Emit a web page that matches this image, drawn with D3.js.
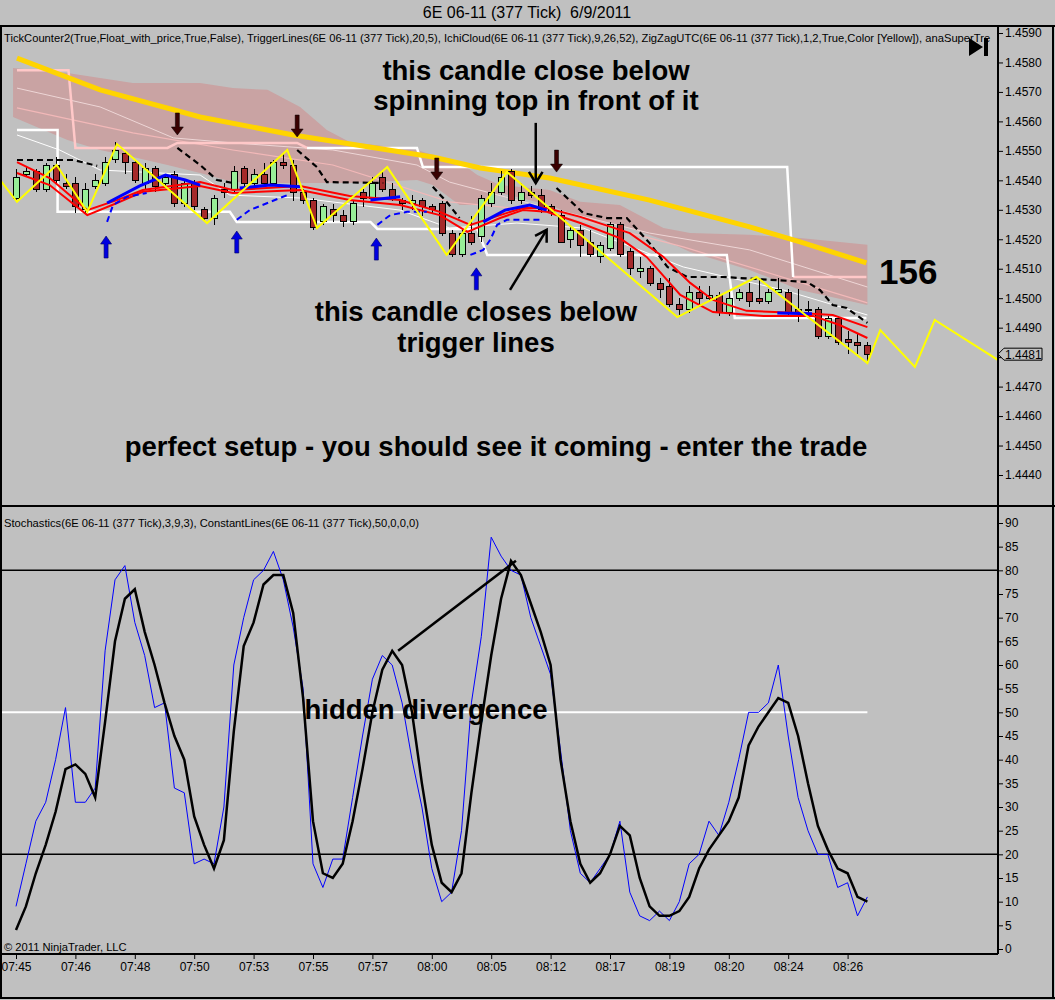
<!DOCTYPE html>
<html lang="en">
<head>
<meta charset="UTF-8" />
<title>6E 06-11 (377 Tick) 6/9/2011</title>
<script src="https://d3js.org/d3.v7.min.js"></script>
<style>
  body { margin: 0; background: #c0c0c0; }
  svg { display: block; font-family: Arial, "Liberation Sans", sans-serif; }
  .axis text { font-size: 12px; fill: #000; }
  .axis line { stroke: #000; }
  .note { font-weight: bold; font-size: 27.5px; fill: #000; }
</style>
</head>
<body>
<svg id="chart" width="1055" height="1000"></svg>
<script>
// ---- data ----
const timeLabels = ["07:45","07:46","07:48","07:50","07:53","07:55","07:57","08:00","08:05","08:12","08:17","08:19","08:20","08:24","08:26"];
const timeTickBars = [0,6,12,18,24,30,36,42,48,54,60,66,72,78,84];
const priceTicks = [1.4440,1.4450,1.4460,1.4470,1.4480,1.4490,1.4500,1.4510,1.4520,1.4530,1.4540,1.4550,1.4560,1.4570,1.4580,1.4590];
const stochTicks = [0,5,10,15,20,25,30,35,40,45,50,55,60,65,70,75,80,85,90];

// open, high, low, close per 377-tick bar
const candles = [
  [1.4534,1.4544,1.4533,1.4541],[1.4542,1.4545,1.4541,1.4543],[1.4543,1.4544,1.4536,1.4537],[1.4537,1.4546,1.4536,1.4545],
  [1.4545,1.4548,1.4539,1.4540],[1.4539,1.4542,1.4537,1.4538],[1.4539,1.4541,1.4529,1.4531],[1.4530,1.4539,1.4529,1.4537],
  [1.4538,1.4542,1.4537,1.4540],[1.4539,1.4548,1.4538,1.4546],[1.4547,1.4553,1.4546,1.4550],[1.4549,1.4550,1.4542,1.4546],
  [1.4546,1.4547,1.4539,1.4540],[1.4539,1.4546,1.4537,1.4544],[1.4544,1.4545,1.4536,1.4538],[1.4539,1.4542,1.4538,1.4541],
  [1.4542,1.4543,1.4531,1.4532],[1.4532,1.4540,1.4531,1.4539],[1.4539,1.4540,1.4530,1.4531],[1.4530,1.4531,1.4526,1.4527],
  [1.4527,1.4535,1.4525,1.4534],[1.4537,1.4539,1.4534,1.4536],[1.4537,1.4545,1.4536,1.4543],[1.4544,1.4545,1.4538,1.4539],
  [1.4539,1.4544,1.4538,1.4542],[1.4542,1.4546,1.4538,1.4539],[1.4539,1.4547,1.4538,1.4546],[1.4546,1.4549,1.4544,1.4545],
  [1.4545,1.4547,1.4533,1.4536],[1.4536,1.4537,1.4532,1.4533],[1.4533,1.4534,1.4523,1.4524],[1.4526,1.4532,1.4525,1.4531],
  [1.4530,1.4532,1.4526,1.4528],[1.4528,1.4530,1.4524,1.4526],[1.4526,1.4533,1.4525,1.4532],[1.4536,1.4537,1.4531,1.4534],
  [1.4534,1.4541,1.4533,1.4539],[1.4541,1.4543,1.4536,1.4537],[1.4537,1.4539,1.4533,1.4534],[1.4533,1.4534,1.4530,1.4532],
  [1.4532,1.4535,1.4530,1.4533],[1.4533,1.4534,1.4528,1.4531],[1.4531,1.4532,1.4529,1.4530],[1.4532,1.4533,1.4521,1.4522],
  [1.4522,1.4523,1.4514,1.4515],[1.4515,1.4523,1.4514,1.4522],[1.4522,1.4528,1.4518,1.4519],[1.4521,1.4535,1.4519,1.4534],
  [1.4532,1.4539,1.4531,1.4536],[1.4536,1.4543,1.4535,1.4541],[1.4543,1.4544,1.4532,1.4533],[1.4533,1.4539,1.4532,1.4536],
  [1.4536,1.4538,1.4534,1.4535],[1.4535,1.4537,1.4529,1.4530],[1.4531,1.4532,1.4528,1.4529],[1.4528,1.4530,1.4519,1.4519],
  [1.4520,1.4525,1.4517,1.4523],[1.4523,1.4525,1.4514,1.4518],[1.4519,1.4523,1.4514,1.4515],[1.4514,1.4519,1.4512,1.4518],
  [1.4517,1.4526,1.4516,1.4525],[1.4525,1.4526,1.4514,1.4515],[1.4516,1.4517,1.4508,1.4510],[1.4509,1.4514,1.4507,1.4510],
  [1.4510,1.4511,1.4504,1.4505],[1.4505,1.4507,1.4500,1.4503],[1.4504,1.4507,1.4497,1.4498],[1.4498,1.4500,1.4494,1.4496],
  [1.4496,1.4504,1.4495,1.4502],[1.4502,1.4504,1.4497,1.4500],[1.4500,1.4504,1.4499,1.4501],[1.4501,1.4502,1.4494,1.4495],
  [1.4495,1.4502,1.4494,1.4500],[1.4500,1.4503,1.4499,1.4502],[1.4502,1.4505,1.4497,1.4499],[1.4500,1.4507,1.4498,1.4499],
  [1.4499,1.4503,1.4498,1.4502],[1.4502,1.4507,1.4502,1.4503],[1.4502,1.4503,1.4494,1.4495],[1.4496,1.4503,1.4492,1.4495],
  [1.4496,1.4499,1.4495,1.4496],[1.4496,1.4497,1.4486,1.4487],[1.4487,1.4494,1.4486,1.4493],[1.4493,1.4494,1.4484,1.4485],
  [1.4486,1.4489,1.4481,1.4485],[1.4485,1.4488,1.4481,1.4484],[1.4484,1.4485,1.4478,1.4481]
];

// overlay lines as [bar, price] vertices
const cloudBars   = [-0.3,5.2,8.5,11.8,15.3,18.6,21.9,25.4,28.7,31.4,33.7,40.5,42.1,44.8,46.6,48.9,53.9,57.0,61.0,65.4,68.1,74.1,79.2,86.0];
const cloudTop    = [1.45781,1.45764,1.45747,1.45730,1.45730,1.45730,1.45713,1.45707,1.45649,1.45571,1.45530,1.45503,1.45486,1.45462,1.45418,1.45384,1.45367,1.45327,1.45316,1.45238,1.45221,1.45215,1.45204,1.45181];
const cloudBottom = [1.45615,1.45537,1.45503,1.45479,1.45452,1.45425,1.45394,1.45391,1.45391,1.45391,1.45391,1.45401,1.45384,1.45316,1.45316,1.45357,1.45316,1.45272,1.45249,1.45198,1.45157,1.45096,1.45028,1.44977];

const thinA = [[0.1,1.45713],[8.5,1.45649],[15.9,1.45544],[21.9,1.45527],[32.0,1.45503],[40.5,1.45452],[43.8,1.45394],[50.6,1.45333],[64.0,1.45221],[74.1,1.45164],[86.0,1.45038]];
const thinB = [[0.1,1.45646],[11.8,1.45561],[21.9,1.45503],[32.0,1.45452],[43.8,1.45327],[53.9,1.45293],[67.4,1.45174],[86.0,1.44984]];
const thinC = [[0.1,1.45554],[4.4,1.45503],[8.5,1.45435],[18.6,1.45418],[21.6,1.45350],[28.7,1.45340],[38.8,1.45299],[43.8,1.45238],[50.6,1.45255],[57.3,1.45238],[67.4,1.45106],[77.5,1.45028],[86.0,1.44943]];

const upperStepPinkA = [[0.1,1.45774],[5.3,1.45774],[6.0,1.45510],[15.3,1.45510],[16.3,1.45527],[28.4,1.45527],[29.4,1.45510]];
const upperStepWhite = [[29.4,1.45510],[40.5,1.45510],[41.1,1.45445],[77.9,1.45445],[78.5,1.45072]];
const upperStepPinkB = [[78.5,1.45072],[85.9,1.45072]];
const lowerStep = [[0.1,1.45571],[4.2,1.45571],[4.2,1.45293],[21.6,1.45293],[22.3,1.45259],[35.8,1.45259],[36.5,1.45235],[46.6,1.45235],[47.6,1.45147],[71.8,1.45147],[72.6,1.44933],[85.9,1.44933]];

const goldLine = [[0.1,1.45815],[8.5,1.45707],[18.6,1.45615],[28.0,1.45554],[42.1,1.45479],[46.9,1.45442],[53.9,1.45408],[64.0,1.45333],[74.1,1.45242],[79.2,1.45191],[85.9,1.45120]];

const blackDash = [
  [[0.1,1.45469],[5.8,1.45469],[8.2,1.45449]],
  [[16.3,1.45510],[18.6,1.45452],[20.3,1.45401],[21.9,1.45391]],
  [[28.4,1.45503],[30.4,1.45445],[31.4,1.45394],[37.1,1.45391]],
  [[42.1,1.45378],[43.5,1.45327],[44.8,1.45272]],
  [[54.6,1.45374],[57.3,1.45289],[59.7,1.45272],[61.7,1.45272],[64.0,1.45187],[65.8,1.45106],[67.8,1.45072],[71.4,1.45072],[79.9,1.45055],[81.2,1.45028],[82.5,1.44977],[83.9,1.44967],[86.0,1.44916]]
];

const triggerSlow = [[0.1,1.45462],[3.4,1.45408],[7.2,1.45299],[10.2,1.45333],[12.8,1.45367],[18.6,1.45394],[21.9,1.45367],[28.7,1.45381],[33.7,1.45347],[38.8,1.45333],[42.8,1.45293],[45.9,1.45249],[48.9,1.45282],[51.2,1.45306],[53.6,1.45306],[57.0,1.45276],[62.0,1.45221],[65.4,1.45140],[68.1,1.45052],[70.4,1.44994],[73.8,1.44957],[79.2,1.44950],[82.5,1.44943],[86.0,1.44902]];
const triggerFast = [[0.1,1.45425],[3.4,1.45384],[7.2,1.45282],[10.2,1.45323],[12.8,1.45361],[18.6,1.45381],[21.9,1.45357],[28.7,1.45367],[33.7,1.45333],[38.8,1.45316],[42.8,1.45282],[45.6,1.45225],[48.9,1.45272],[51.2,1.45299],[53.6,1.45293],[57.0,1.45255],[61.0,1.45204],[63.7,1.45140],[67.1,1.45011],[70.4,1.44953],[75.5,1.44940],[80.5,1.44940],[83.2,1.44909],[86.0,1.44865]];

const blueUp = [
  [[9.2,1.45323],[12.5,1.45381],[15.1,1.45418],[17.1,1.45401],[18.6,1.45384]],
  [[22.6,1.45374],[25.7,1.45384],[28.7,1.45378]],
  [[35.8,1.45333],[38.8,1.45344]],
  [[47.2,1.45259],[49.4,1.45299],[51.9,1.45316],[53.6,1.45299]],
  [[76.9,1.44950],[80.4,1.44947]]
];
const blueDash = [
  [[9.2,1.45259],[9.8,1.45316],[11.2,1.45344],[13.2,1.45357]],
  [[22.3,1.45266],[23.6,1.45299],[25.4,1.45323],[27.4,1.45350]],
  [[36.5,1.45249],[37.8,1.45282],[39.5,1.45293],[41.5,1.45293]],
  [[45.9,1.45147],[47.2,1.45164],[47.9,1.45198],[48.6,1.45249],[49.6,1.45266],[52.9,1.45266]]
];

const zigzag = [[-1.6,1.45401],[0.1,1.45327],[4.1,1.45452],[7.2,1.45293],[10.2,1.45523],[19.3,1.45255],[27.4,1.45503],[30.4,1.45238],[37.5,1.45445],[43.5,1.45147],[49.6,1.45428],[66.8,1.44936],[74.8,1.45072],[86.0,1.44780],[87.3,1.44892],[90.8,1.44767],[92.8,1.44926],[99.2,1.44790]];

const upArrows   = [[9.1,1.45211],[22.3,1.45228],[36.4,1.45204],[46.5,1.45103]];
const downArrows = [[16.3,1.45554],[28.4,1.45547],[42.5,1.45401],[54.6,1.45428]];

const stochK = [9,18,27,31,40,51,31,31,34,63,78,81,69,62,51,52,34,33,18,19,18,30,60,70,78,80,84,78,68,55,18,13,19,19,32,45,57,62,60,52,40,30,17,10,12,25,52,66,87,83,80,79,70,64,58,42,25,16,14,17,20,27,12,7,6,8,6,10,18,20,27,24,31,40,50,50,52,60,45,32,25,20,20,13,14,7,11];
const stochD = [4,9,16,22,29,38,39,37,32,48,65,74,76,67,60,52,45,40,28,22,17,23,46,64,69,77,79,79,71,53,27,16,15,18,27,38,50,59,63,60,50,35,22,14,12,16,33,48,62,74,82,79,73,67,60,40,27,18,14,16,20,26,24,15,9,7,7,8,11,17,21,24,27,32,43,47,50,53,52,45,35,26,21,17,16,11,10];
const stochLevels = [80, 20];
const stochMid = 50;
const divergence = [[38.6,63],[50.5,82]];

// ---- layout ----
const svg = d3.select("#chart");
const W = 1055, H = 1000;
const axisX = 998, pTop = 26, pBottom = 506, sBottom = 954;

const x = d3.scaleLinear().domain([0, 86]).range([16, 867.4]);
const yP = d3.scaleLinear().domain([1.4440, 1.4590]).range([475, 33]);
const yS = d3.scaleLinear().domain([0, 90]).range([949, 523]);

const defs = svg.append("defs");
defs.append("clipPath").attr("id", "clipP").append("rect")
  .attr("x", 1).attr("y", pTop + 1).attr("width", axisX - 1).attr("height", pBottom - pTop - 1);
defs.append("clipPath").attr("id", "clipS").append("rect")
  .attr("x", 1).attr("y", pBottom + 1).attr("width", axisX - 1).attr("height", sBottom - pBottom - 1);

svg.append("rect").attr("width", W).attr("height", H).attr("fill", "#c0c0c0");

svg.append("text").attr("x", 527).attr("y", 18).attr("text-anchor", "middle")
  .style("font-size", "16px").style("white-space", "pre").text("6E 06-11 (377 Tick)  6/9/2011");

const gp = svg.append("g").attr("clip-path", "url(#clipP)");
const pl = d3.line().x(d => x(d[0])).y(d => yP(d[1]));

// ichimoku cloud
const cloud = cloudBars.map((b, i) => [b, cloudTop[i], cloudBottom[i]]);
gp.append("path").datum(cloud)
  .attr("d", d3.area().x(d => x(d[0])).y0(d => yP(d[2])).y1(d => yP(d[1])))
  .attr("fill", "#c9a3a3");

gp.append("path").datum(thinA).attr("d", pl).attr("fill", "none").attr("stroke", "#eed6d6").attr("stroke-width", 1);
gp.append("path").datum(thinB).attr("d", pl).attr("fill", "none").attr("stroke", "#f2b8b8").attr("stroke-width", 1.2);
gp.append("path").datum(thinC).attr("d", pl).attr("fill", "none").attr("stroke", "#ffffff").attr("stroke-width", 1);

gp.append("path").datum(upperStepPinkA).attr("d", pl).attr("fill", "none").attr("stroke", "#ffc8c8").attr("stroke-width", 2.5);
gp.append("path").datum(upperStepPinkB).attr("d", pl).attr("fill", "none").attr("stroke", "#ffc8c8").attr("stroke-width", 2.5);
gp.append("path").datum(upperStepWhite).attr("d", pl).attr("fill", "none").attr("stroke", "#ffffff").attr("stroke-width", 2.5);
gp.append("path").datum(lowerStep).attr("d", pl).attr("fill", "none").attr("stroke", "#ffffff").attr("stroke-width", 2.5);

gp.append("path").datum(goldLine).attr("d", pl).attr("fill", "none").attr("stroke", "#ffd400").attr("stroke-width", 5);

// candles
const cg = gp.append("g").attr("shape-rendering", "crispEdges");
cg.selectAll("line").data(candles).join("line")
  .attr("x1", (d, i) => Math.round(x(i)) + 0.5).attr("x2", (d, i) => Math.round(x(i)) + 0.5)
  .attr("y1", d => yP(d[1])).attr("y2", d => yP(d[2]))
  .attr("stroke", "#000");
cg.selectAll("rect").data(candles).join("rect")
  .attr("x", (d, i) => Math.round(x(i)) - 2.5)
  .attr("width", 6)
  .attr("y", d => yP(Math.max(d[0], d[3])))
  .attr("height", d => Math.max(1, Math.abs(yP(d[0]) - yP(d[3]))))
  .attr("fill", d => d[3] > d[0] ? "#98ee98" : d[3] < d[0] ? "#a52a2a" : "#000")
  .attr("stroke", "#000").attr("stroke-width", 1);

gp.selectAll("path.kd").data(blackDash).join("path").attr("class", "kd")
  .attr("d", pl).attr("fill", "none").attr("stroke", "#000").attr("stroke-width", 2.2).attr("stroke-dasharray", "6,4");

gp.append("path").datum(triggerSlow).attr("d", pl).attr("fill", "none").attr("stroke", "#ff0000").attr("stroke-width", 2);
gp.append("path").datum(triggerFast).attr("d", pl).attr("fill", "none").attr("stroke", "#ff0000").attr("stroke-width", 2);

gp.selectAll("path.bu").data(blueUp).join("path").attr("class", "bu")
  .attr("d", pl).attr("fill", "none").attr("stroke", "#0000ff").attr("stroke-width", 3);
gp.selectAll("path.bd").data(blueDash).join("path").attr("class", "bd")
  .attr("d", pl).attr("fill", "none").attr("stroke", "#0000ff").attr("stroke-width", 2).attr("stroke-dasharray", "6,4");

gp.append("path").datum(zigzag).attr("d", pl).attr("fill", "none").attr("stroke", "#ffff00").attr("stroke-width", 2);

// signal arrows
gp.selectAll("path.ua").data(upArrows).join("path").attr("class", "ua")
  .attr("transform", d => `translate(${x(d[0])},${yP(d[1])})`)
  .attr("d", "M0,0 L5.5,8 L2,8 L2,22 L-2,22 L-2,8 L-5.5,8 Z")
  .attr("fill", "#0000e0").attr("stroke", "#000060").attr("stroke-width", 0.6);
gp.selectAll("path.da").data(downArrows).join("path").attr("class", "da")
  .attr("transform", d => `translate(${x(d[0])},${yP(d[1])})`)
  .attr("d", "M0,0 L-6,-8 L-2,-8 L-2,-22 L2,-22 L2,-8 L6,-8 Z")
  .attr("fill", "#3a0000").attr("stroke", "#000").attr("stroke-width", 0.5);

// annotations
const noteArrow1 = [[52.5, 1.45595], [52.5, 1.45391]];
const noteArrow2 = [[49.9, 1.45028], [53.6, 1.45232]];
function drawArrow(pts) {
  const [p0, p1] = pts.map(p => [x(p[0]), yP(p[1])]);
  const a = Math.atan2(p1[1] - p0[1], p1[0] - p0[0]);
  const L = 13, s = 0.55;
  gp.append("line").attr("x1", p0[0]).attr("y1", p0[1]).attr("x2", p1[0]).attr("y2", p1[1])
    .attr("stroke", "#000").attr("stroke-width", 2.5);
  gp.append("path")
    .attr("d", `M${p1[0] - L * Math.cos(a - s)},${p1[1] - L * Math.sin(a - s)} L${p1[0]},${p1[1]} L${p1[0] - L * Math.cos(a + s)},${p1[1] - L * Math.sin(a + s)}`)
    .attr("fill", "none").attr("stroke", "#000").attr("stroke-width", 2.5);
}
drawArrow(noteArrow1);
drawArrow(noteArrow2);

gp.append("text").attr("class", "note").attr("x", 536).attr("y", 80).attr("text-anchor", "middle").text("this candle close below");
gp.append("text").attr("class", "note").attr("x", 536).attr("y", 110).attr("text-anchor", "middle").text("spinning top in front of it");
gp.append("text").attr("class", "note").attr("x", 476).attr("y", 321).attr("text-anchor", "middle").text("this candle closes below");
gp.append("text").attr("class", "note").attr("x", 476).attr("y", 352).attr("text-anchor", "middle").text("trigger lines");
gp.append("text").attr("class", "note").attr("x", 496).attr("y", 456).attr("text-anchor", "middle").text("perfect setup - you should see it coming - enter the trade");
gp.append("text").attr("x", 879).attr("y", 284).style("font-weight", "bold").style("font-size", "35px").text("156");

// indicator list, cut off at the panel edge as in the original
gp.append("text").attr("x", 4).attr("y", 42).style("font-size", "11.2px")
  .text("TickCounter2(True,Float_with_price,True,False), TriggerLines(6E 06-11 (377 Tick),20,5), IchiCloud(6E 06-11 (377 Tick),9,26,52), ZigZagUTC(6E 06-11 (377 Tick),1,2,True,Color [Yellow]), anaSuperTre");
// scroll-to-end icon
gp.append("path").attr("d", "M969,38 L983,47 L969,56 Z").attr("fill", "#000");
gp.append("rect").attr("x", 984).attr("y", 38).attr("width", 4).attr("height", 18).attr("fill", "#000");

// ---- stochastics panel ----
const gs = svg.append("g").attr("clip-path", "url(#clipS)");
gs.append("text").attr("x", 4).attr("y", 527).style("font-size", "11.2px")
  .text("Stochastics(6E 06-11 (377 Tick),3,9,3), ConstantLines(6E 06-11 (377 Tick),50,0,0,0)");
gs.selectAll("line.lvl").data(stochLevels).join("line").attr("class", "lvl")
  .attr("x1", 1).attr("x2", axisX).attr("y1", d => yS(d)).attr("y2", d => yS(d))
  .attr("stroke", "#000").attr("stroke-width", 1.5);
gs.append("line").attr("x1", 1).attr("x2", x(86)).attr("y1", yS(stochMid)).attr("y2", yS(stochMid))
  .attr("stroke", "#fff").attr("stroke-width", 2);
const sl = d3.line().x((d, i) => x(i)).y(d => yS(d));
gs.append("path").datum(stochK).attr("d", sl).attr("fill", "none").attr("stroke", "#0000ff").attr("stroke-width", 1);
gs.append("path").datum(stochD).attr("d", sl).attr("fill", "none").attr("stroke", "#000").attr("stroke-width", 2.5);
gs.append("path").datum(divergence).attr("d", d3.line().x(d => x(d[0])).y(d => yS(d[1])))
  .attr("fill", "none").attr("stroke", "#000").attr("stroke-width", 2.5);
gs.append("text").attr("class", "note").attr("x", 426).attr("y", 719).attr("text-anchor", "middle").text("hidden divergence");
gs.append("text").attr("x", 4).attr("y", 951).style("font-size", "11.2px").text("\u00A9 2011 NinjaTrader, LLC");

// ---- axes and frame ----
const last = candles[candles.length - 1][3];
const ax1 = svg.append("g").attr("class", "axis").attr("transform", `translate(${axisX},0)`)
  .call(d3.axisRight(yP).tickValues(priceTicks).tickFormat(d3.format(".4f")).tickSize(5).tickPadding(2));
ax1.select(".domain").remove();
// the tick label hidden behind the last-price marker
ax1.selectAll(".tick text").filter(d => Math.abs(yP(d) - yP(last)) < 12).remove();
const ax2 = svg.append("g").attr("class", "axis").attr("transform", `translate(${axisX},0)`)
  .call(d3.axisRight(yS).tickValues(stochTicks).tickSize(5).tickPadding(2));
ax2.select(".domain").remove();
const ax3 = svg.append("g").attr("class", "axis").attr("transform", `translate(0,${sBottom})`)
  .call(d3.axisBottom(x).tickValues(timeTickBars).tickFormat((d, i) => timeLabels[i]).tickSize(5).tickPadding(3));
ax3.select(".domain").remove();

// last price marker
const ly = yP(last);
svg.append("path")
  .attr("d", `M${axisX},${ly} L${axisX + 6},${ly - 6} L${axisX + 44},${ly - 6} L${axisX + 44},${ly + 6} L${axisX + 6},${ly + 6} Z`)
  .attr("fill", "#c0c0c0").attr("stroke", "#000");
svg.append("text").attr("x", axisX + 7).attr("y", ly + 4.5).style("font-size", "12px").text(d3.format(".4f")(last));

const frame = svg.append("g").attr("stroke", "#000").attr("stroke-width", 1.2).attr("shape-rendering", "crispEdges");
frame.append("line").attr("x1", 0).attr("x2", W).attr("y1", pTop).attr("y2", pTop);
frame.append("line").attr("x1", 0).attr("x2", W).attr("y1", pBottom).attr("y2", pBottom);
frame.append("line").attr("x1", 0).attr("x2", axisX).attr("y1", sBottom).attr("y2", sBottom);
frame.append("line").attr("x1", 0).attr("x2", W).attr("y1", H - 2).attr("y2", H - 2);
frame.append("line").attr("x1", 1).attr("x2", 1).attr("y1", pTop).attr("y2", H - 2);
frame.append("line").attr("x1", W - 2).attr("x2", W - 2).attr("y1", pTop).attr("y2", H - 2);
frame.append("line").attr("x1", axisX).attr("x2", axisX).attr("y1", pTop).attr("y2", sBottom);
</script>
</body>
</html>
